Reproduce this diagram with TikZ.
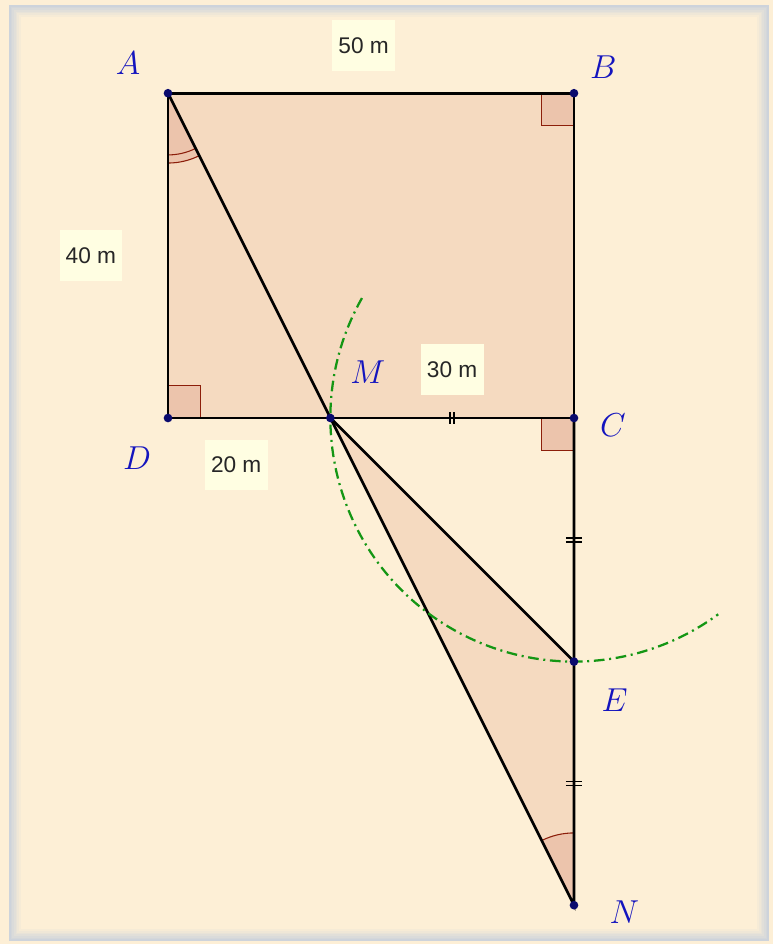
\documentclass[tikz,border=0pt]{standalone}
\usepackage{fontspec}
\newfontfamily\lenfont{Liberation Sans}
\usetikzlibrary{calc}
\definecolor{bgc}{RGB}{253,239,214}
\definecolor{polyc}{RGB}{245,218,192}
\definecolor{rac}{RGB}{140,30,10}
\definecolor{raf}{RGB}{236,196,172}
\definecolor{dotc}{RGB}{10,10,110}
\definecolor{labc}{RGB}{20,20,190}
\definecolor{boxc}{RGB}{255,254,226}
\definecolor{arcc}{RGB}{20,150,20}
\definecolor{framec}{RGB}{185,200,222}
\begin{document}
\begin{tikzpicture}[x=6.09pt, y=6.09pt, pt/.style={circle, fill=dotc, inner sep=0pt, minimum size=6.5pt}, lab/.style={text=labc, font=\fontsize{29}{31}\selectfont}, len/.style={fill=boxc, font=\lenfont\fontsize{17}{19}\selectfont, text=black!85, minimum width=47pt, minimum height=38pt}, seg/.style={line width=2pt}, ra/.style={draw=rac, fill=raf, line width=1pt}]
\useasboundingbox[fill=bgc] (-20.69,-64.78) rectangle (74.51,51.48);
% panel edge
\foreach \i in {0,...,6} \draw[framec, opacity=0.7-\i/10, line width=1.2pt] (-19.46+\i*0.2,50.74-\i*0.2) rectangle (73.89-\i*0.2,-64.29+\i*0.2);
\coordinate (A) at (0,40); \coordinate (B) at (50,40); \coordinate (C) at (50,0); \coordinate (D) at (0,0);
\coordinate (M) at (20,0); \coordinate (E) at (50,-30); \coordinate (N) at (50,-60);
% shaded pieces
\fill[polyc] (A) -- (B) -- (C) -- (D) -- cycle; \fill[polyc] (M) -- (E) -- (N) -- cycle;
\fill[raf] (A) -- ++(270:8.6) arc[start angle=270, end angle=296.57, radius=8.6] -- cycle;
\fill[raf] (N) -- ++(90:8.9) arc[start angle=90, end angle=116.57, radius=8.9] -- cycle;
\draw[rac, line width=0.8pt] ($(A)+(270:7.6)$) arc[start angle=270, end angle=296.57, radius=7.6] ($(A)+(270:8.6)$) arc[start angle=270, end angle=296.57, radius=8.6];
\draw[rac, line width=0.8pt] ($(N)+(90:8.9)$) arc[start angle=90, end angle=116.57, radius=8.9];
\draw[ra] (D) rectangle ++(4,4); \draw[ra] (B) rectangle ++(-4,-4); \draw[ra] (C) rectangle ++(-4,-4);
% segments
\draw[seg] (A) -- (B) -- (C) -- (D) -- cycle; \draw[seg] (A) -- (M) -- (N) -- (C); \draw[seg] (M) -- (E);
\draw[arcc, line width=1.7pt, dash pattern=on 8pt off 3.5pt on 1.5pt off 3.5pt] ($(C)+(150.5:30)$) arc[start angle=150.5, end angle=306.3, radius=30];
\foreach \d in {-0.25,0.25} {\draw[line width=1.1pt] ($(M)!0.5!(C)+(\d,-0.7)$) -- ++(0,1.4); \draw[line width=1.1pt] ($(C)!0.5!(E)+(-1,\d)$) -- ++(2,0); \draw[line width=1.1pt] ($(E)!0.5!(N)+(-1,\d)$) -- ++(2,0);}
\foreach \p in {A,B,C,D,M,E,N} \node[pt] (p\p) at (\p) {};
% labels
\node[lab] (lA) at (-4.93,43.7) {$A$}; \node[lab] (lB) at (53.6,43.2) {$B$}; \node[lab] (lC) at (54.8,-0.9) {$C$};
\node[lab] (lD) at (-3.8,-5.0) {$D$}; \node[lab] (lM) at (24.6,5.7) {$M$}; \node[lab] (lE) at (55.0,-34.7) {$E$}; \node[lab] (lN) at (56.2,-60.8) {$N$};
\node[len] (l50) at (24.1,45.9) {50 m}; \node[len] (l40) at (-9.5,20) {40 m}; \node[len] (l30) at (35,6) {30 m}; \node[len] (l20) at (8.4,-5.8) {20 m};
\end{tikzpicture}
\end{document}
